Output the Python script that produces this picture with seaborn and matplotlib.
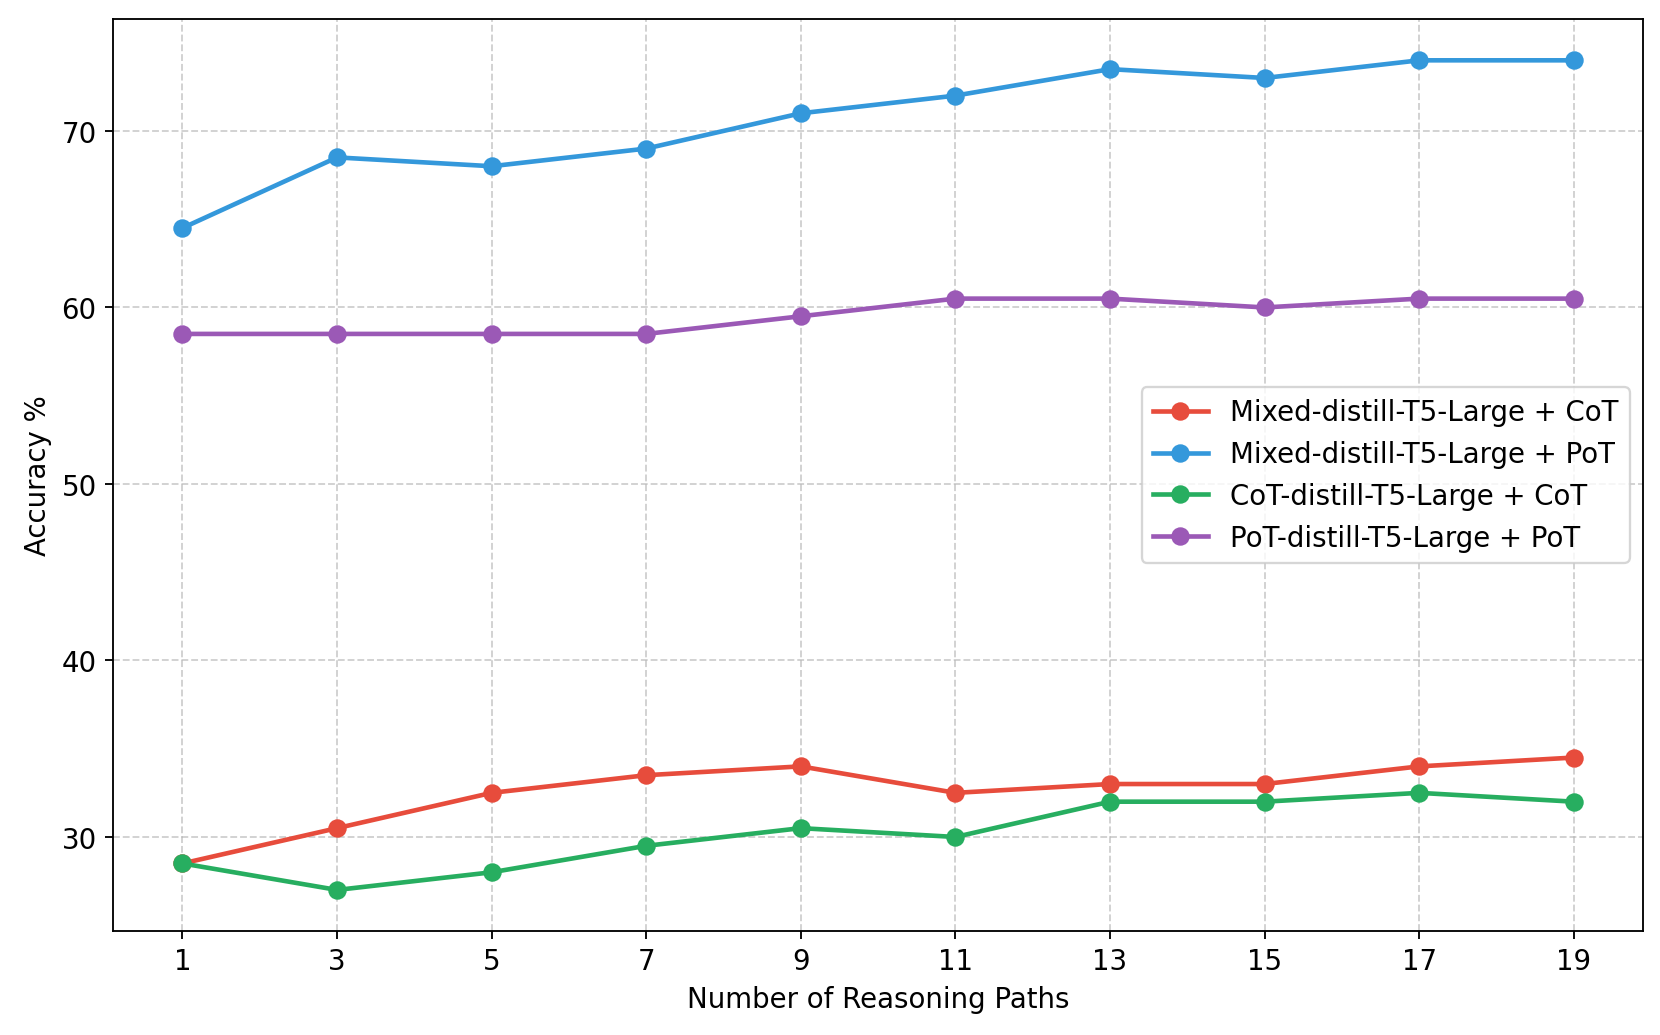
import pandas as pd
import seaborn as sns
import matplotlib
matplotlib.use("Agg")
import matplotlib.pyplot as plt

# datos
caminos = [1, 3, 5, 7, 9, 11, 13, 15, 17, 19]
mixed_cot = [28.5, 30.5, 32.5, 33.5, 34.0, 32.5, 33.0, 33.0, 34.0, 34.5]
mixed_pot = [64.5, 68.5, 68.0, 69.0, 71.0, 72.0, 73.5, 73.0, 74.0, 74.0]
cot_cot = [28.5, 27.0, 28.0, 29.5, 30.5, 30.0, 32.0, 32.0, 32.5, 32.0]
pot_pot = [58.5, 58.5, 58.5, 58.5, 59.5, 60.5, 60.5, 60.0, 60.5, 60.5]

nombres = [
    "Mixed-distill-T5-Large + CoT",
    "Mixed-distill-T5-Large + PoT",
    "CoT-distill-T5-Large + CoT",
    "PoT-distill-T5-Large + PoT",
]
colores = ["#e74c3c", "#3498db", "#27ae60", "#9b59b6"]

df = pd.concat([
    pd.DataFrame({"paths": caminos, "acc": serie, "modelo": nombre})
    for nombre, serie in zip(nombres, [mixed_cot, mixed_pot, cot_cot, pot_pot])
])

plt.rcParams["font.size"] = 12
fig, ax = plt.subplots(figsize=(10, 6.24), dpi=166)

sns.lineplot(data=df, x="paths", y="acc", hue="modelo", hue_order=nombres,
             palette=colores, marker="o", markersize=8, markeredgewidth=0,
             linewidth=2, ax=ax)

ax.set_xticks(caminos)
ax.set_xlabel("Number of Reasoning Paths")
ax.set_ylabel("Accuracy %")
ax.grid(True, linestyle="--", alpha=0.6)
ax.legend(loc="center right", fontsize=12)

fig.subplots_adjust(left=0.068, right=0.99, top=0.981, bottom=0.1)
plt.savefig("out.png", dpi=166)
